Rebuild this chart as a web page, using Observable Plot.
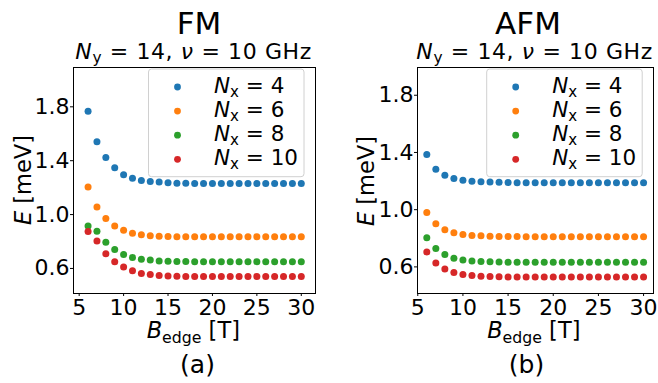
<!DOCTYPE html>
<html><head><meta charset="utf-8">
<script src="https://cdn.jsdelivr.net/npm/d3@7"></script>
<script src="https://cdn.jsdelivr.net/npm/@observablehq/plot@0.6"></script>
<style>
body{margin:0;background:#fff;}
#wrap{position:relative;width:658px;height:383px;overflow:hidden;font-family:"DejaVu Sans";}
#wrap svg{position:absolute;top:0;overflow:visible;}
</style></head><body><div id="wrap"></div>
<script>
// ---- data ----
const bEdge = [6,7,8,9,10,11,12,13,14,15,16,17,18,19,20,21,22,23,24,25,26,27,28,29,30];
const nxValues = [4, 6, 8, 10];
const seriesColors = ["#1f77b4", "#ff7f0e", "#2ca02c", "#d62728"];
const xTicks = [5, 10, 15, 20, 25, 30];
const yTicks = [0.6, 1.0, 1.4, 1.8];
const panelTitles = ["FM", "AFM"];
const panelCaptions = ["(a)", "(b)"];

const fmNx4  = [1.768,1.540,1.424,1.347,1.295,1.270,1.253,1.246,1.241,1.236,1.233,1.232,1.231,1.231,1.230,1.230,1.230,1.230,1.230,1.230,1.230,1.230,1.230,1.230,1.230];
const fmNx6  = [1.204,1.057,0.971,0.916,0.884,0.862,0.850,0.842,0.839,0.837,0.836,0.835,0.835,0.835,0.835,0.835,0.835,0.835,0.835,0.835,0.835,0.835,0.835,0.835,0.835];
const fmNx8  = [0.916,0.877,0.795,0.741,0.704,0.682,0.669,0.662,0.656,0.653,0.652,0.651,0.650,0.650,0.650,0.650,0.650,0.650,0.650,0.650,0.650,0.650,0.650,0.650,0.650];
const fmNx10 = [0.875,0.803,0.709,0.649,0.610,0.582,0.563,0.555,0.548,0.544,0.542,0.541,0.540,0.540,0.540,0.540,0.540,0.540,0.540,0.540,0.540,0.540,0.540,0.540,0.540];

const afmNx4  = [1.386,1.283,1.241,1.218,1.206,1.199,1.196,1.193,1.191,1.190,1.189,1.188,1.188,1.188,1.188,1.188,1.188,1.188,1.188,1.188,1.188,1.188,1.188,1.188,1.188];
const afmNx6  = [0.980,0.901,0.859,0.838,0.827,0.820,0.817,0.815,0.813,0.812,0.812,0.811,0.811,0.811,0.811,0.811,0.811,0.811,0.811,0.811,0.811,0.811,0.811,0.811,0.811];
const afmNx8  = [0.803,0.729,0.687,0.661,0.649,0.642,0.638,0.636,0.634,0.633,0.632,0.632,0.632,0.632,0.632,0.632,0.632,0.632,0.632,0.632,0.632,0.632,0.632,0.632,0.632];
const afmNx10 = [0.705,0.628,0.586,0.561,0.547,0.540,0.535,0.533,0.531,0.530,0.529,0.529,0.529,0.529,0.529,0.529,0.529,0.529,0.529,0.529,0.529,0.529,0.529,0.529,0.529];

function rows(seriesList) {
  const out = [];
  seriesList.forEach((vals, i) => vals.forEach((e, j) => out.push({b: bEdge[j], e, nx: nxValues[i]})));
  return out;
}
const fmData = rows([fmNx4, fmNx6, fmNx8, fmNx10]);
const afmData = rows([afmNx4, afmNx6, afmNx8, afmNx10]);

const wrap = document.getElementById("wrap");

function panel(data, xDomain, yDomain, ml, mr, left) {
  const p = Plot.plot({
    width: 329, height: 383,
    marginLeft: ml, marginRight: mr, marginTop: 67, marginBottom: 90,
    style: {fontFamily: "DejaVu Sans", fontSize: "22px", color: "#000", background: "transparent", overflow: "visible"},
    x: {domain: xDomain, ticks: xTicks, tickFormat: d => String(d), tickSize: 3, tickPadding: 2.5, label: null},
    y: {domain: yDomain, ticks: yTicks, tickFormat: d => d.toFixed(1), tickSize: 3, tickPadding: 1, label: null},
    color: {domain: nxValues, range: seriesColors},
    marks: [
      Plot.frame({stroke: "#000", strokeWidth: 1}),
      Plot.dot(data, {x: "b", y: "e", fill: "nx", r: 3.5})
    ]
  });
  p.style.left = left + "px";
  wrap.appendChild(p);
}
panel(fmData, [4.36, 31.6], [0.414, 2.092], 73, 14, 0);
panel(afmData, [4.97, 31.1], [0.414, 1.994], 88, 5, 329);

// ---- overlay text & legends ----
const ov = d3.select(wrap).append("svg").attr("width", 658).attr("height", 383)
  .style("left", "0px").attr("font-family", "DejaVu Sans").attr("fill", "#000");

function rich(g, x, y, parts, size, anchor) {
  const t = g.append("text").attr("x", x).attr("y", y).attr("font-size", size).attr("text-anchor", anchor || "start");
  let shifted = 0;
  parts.forEach(p => {
    const s = t.append("tspan").text(p.t);
    if (p.i) s.attr("font-style", "italic");
    const target = p.sub ? size * 0.2 : 0;
    if (target !== shifted) { s.attr("dy", target - shifted); shifted = target; }
    if (p.sub) s.attr("font-size", size * 0.7);
  });
  return t;
}

const panels = [
  {titleX: 199, subX: 193.3, xlabX: 193.3, ylabX: 30.7, ylabY: 180, capX: 197.5, legX: 148.5},
  {titleX: 528, subX: 534.3, xlabX: 533.8, ylabX: 374, ylabY: 181, capX: 526.5, legX: 486.7}
];
panels.forEach((pp, k) => {
  ov.append("text").attr("x", pp.titleX).attr("y", 34).attr("font-size", 31).attr("text-anchor", "middle").text(panelTitles[k]);
  rich(ov, pp.subX, 58.5, [
    {t: "N", i: true}, {t: "y", sub: true}, {t: " = 14, "},
    {t: "ν", i: true}, {t: " = 10 GHz"}
  ], 22, "middle").attr("textLength", 236).attr("lengthAdjust", "spacing");
  rich(ov, pp.xlabX, 338, [{t: "B", i: true}, {t: "edge", sub: true}, {t: " [T]"}], 22.5, "middle");
  const yl = ov.append("g").attr("transform", `translate(${pp.ylabX},${pp.ylabY}) rotate(-90)`);
  rich(yl, 0, 0, [{t: "E", i: true}, {t: " [meV]"}], 22.5, "middle");
  ov.append("text").attr("x", pp.capX).attr("y", 373).attr("font-size", 25).attr("text-anchor", "middle").text(panelCaptions[k]);
  // legend
  const lx = pp.legX;
  ov.append("rect").attr("x", lx).attr("y", 69).attr("width", 155.5).attr("height", 107.7).attr("rx", 3)
    .attr("fill", "#fff").attr("fill-opacity", 0.8).attr("stroke", "#d0d0d0").attr("stroke-width", 1);
  nxValues.forEach((n, i) => {
    ov.append("circle").attr("cx", lx + 29).attr("cy", 87 + i * 24.1).attr("r", 3.4).attr("fill", seriesColors[i]);
    rich(ov, lx + 65.5, 93 + i * 24, [{t: "N", i: true}, {t: "x", sub: true}, {t: " = " + n}], 21.5);
  });
});
</script></body></html>
